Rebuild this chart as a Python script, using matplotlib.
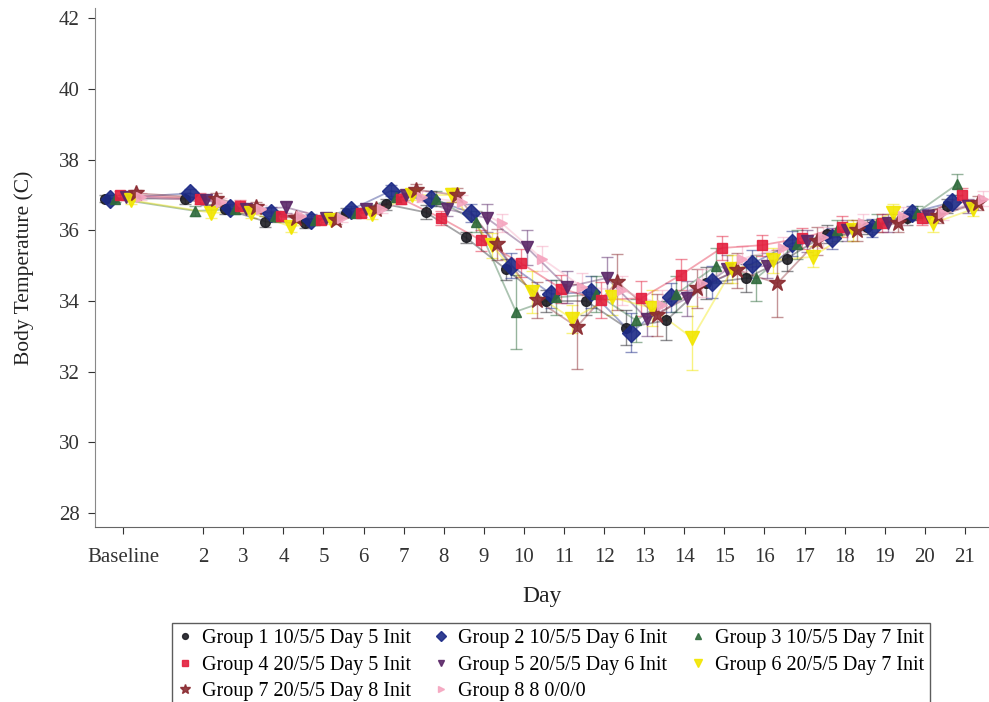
import matplotlib
matplotlib.use("Agg")
import matplotlib.pyplot as plt
import numpy as np

plt.rcParams["font.family"] = ["Liberation Serif", "DejaVu Serif"]

# x positions: Baseline shown at 0, then days 2..21
days = [0, 2, 3, 4, 5, 6, 7, 8, 9, 10, 11, 12, 13, 14, 15, 16, 17, 18, 19, 20, 21]
day_labels = ["Baseline"] + [str(d) for d in range(2, 22)]

groups = [
    "Group 1 10/5/5 Day 5 Init",
    "Group 2 10/5/5 Day 6 Init",
    "Group 3 10/5/5 Day 7 Init",
    "Group 4 20/5/5 Day 5 Init",
    "Group 5 20/5/5 Day 6 Init",
    "Group 6 20/5/5 Day 7 Init",
    "Group 7 20/5/5 Day 8 Init",
    "Group 8 8 0/0/0",
]

g1 = [36.90, 36.90, 36.60, 36.25, 36.20, 36.50, 36.74, 36.51, 35.80, 34.90, 34.00,
      34.00, 33.25, 33.45, 34.50, 34.65, 35.20, 35.90, 36.10, 36.35, 36.70]
g2 = [36.90, 37.05, 36.62, 36.50, 36.30, 36.58, 37.12, 36.90, 36.50, 35.00, 34.20,
      34.25, 33.10, 34.10, 34.53, 35.05, 35.63, 35.78, 36.06, 36.50, 36.80]
g3 = [36.90, 36.55, 36.60, 36.40, 36.30, 36.50, 36.95, 36.90, 36.25, 33.70, 34.10,
      34.20, 33.45, 34.20, 35.00, 34.65, 35.60, 36.00, 36.20, 36.50, 37.30]
g4 = [37.00, 36.90, 36.70, 36.40, 36.30, 36.50, 36.90, 36.35, 35.72, 35.07, 34.35,
      34.03, 34.08, 34.75, 35.50, 35.58, 35.78, 36.10, 36.20, 36.35, 36.99]
g5 = [36.95, 36.85, 36.60, 36.65, 36.35, 36.60, 37.00, 36.60, 36.35, 35.52, 34.40,
      34.65, 33.50, 34.08, 34.90, 35.00, 35.70, 36.00, 36.20, 36.40, 36.70]
g6 = [36.85, 36.50, 36.50, 36.10, 36.30, 36.45, 37.00, 37.00, 35.58, 34.25, 33.50,
      34.10, 33.80, 32.95, 34.90, 35.15, 35.25, 36.00, 36.50, 36.20, 36.60]
g7 = [37.05, 36.90, 36.65, 36.35, 36.30, 36.60, 37.15, 37.00, 35.60, 34.03, 33.27,
      34.54, 33.60, 34.36, 34.87, 34.50, 35.70, 36.00, 36.20, 36.40, 36.77]
g8 = [36.95, 36.80, 36.60, 36.40, 36.35, 36.60, 36.95, 36.80, 36.20, 35.20, 34.40,
      34.30, 33.90, 34.50, 35.20, 35.50, 35.80, 36.20, 36.40, 36.50, 36.90]

e1 = [0.10, 0.15, 0.15, 0.15, 0.12, 0.12, 0.15, 0.20, 0.15, 0.30, 0.30,
      0.40, 0.50, 0.55, 0.45, 0.40, 0.35, 0.25, 0.20, 0.20, 0.20]
e2 = [0.10, 0.12, 0.12, 0.15, 0.15, 0.12, 0.15, 0.20, 0.25, 0.35, 0.40,
      0.45, 0.55, 0.40, 0.45, 0.40, 0.35, 0.30, 0.25, 0.20, 0.20]
e3 = [0.10, 0.15, 0.15, 0.15, 0.12, 0.12, 0.15, 0.20, 0.30, 1.05, 0.50,
      0.50, 0.60, 0.50, 0.50, 0.65, 0.40, 0.30, 0.25, 0.20, 0.30]
e4 = [0.10, 0.15, 0.15, 0.12, 0.12, 0.12, 0.15, 0.20, 0.30, 0.40, 0.40,
      0.50, 0.50, 0.45, 0.35, 0.30, 0.30, 0.30, 0.25, 0.20, 0.20]
e5 = [0.10, 0.12, 0.12, 0.15, 0.12, 0.12, 0.15, 0.20, 0.40, 0.50, 0.45,
      0.60, 0.50, 0.50, 0.40, 0.35, 0.30, 0.30, 0.25, 0.20, 0.20]
e6 = [0.10, 0.15, 0.15, 0.15, 0.12, 0.12, 0.15, 0.20, 0.35, 0.60, 0.40,
      0.50, 0.50, 0.90, 0.40, 0.35, 0.30, 0.30, 0.25, 0.25, 0.20]
e7 = [0.10, 0.15, 0.15, 0.12, 0.12, 0.12, 0.15, 0.20, 0.45, 0.50, 1.20,
      0.80, 0.60, 0.55, 0.50, 0.95, 0.40, 0.30, 0.25, 0.20, 0.20]
e8 = [0.10, 0.12, 0.12, 0.12, 0.12, 0.12, 0.15, 0.20, 0.25, 0.35, 0.40,
      0.40, 0.40, 0.40, 0.35, 0.30, 0.30, 0.25, 0.25, 0.20, 0.20]

values = [g1, g2, g3, g4, g5, g6, g7, g8]
errors = [e1, e2, e3, e4, e5, e6, e7, e8]
colors = ["#1e1e24", "#1c2a86", "#2f6b3c", "#e3203e", "#5b2868", "#f2e600", "#8a2a30", "#f5a6c0"]
markers = ["o", "D", "^", "s", "v", "v", "*", ">"]
msizes = [7, 9, 7, 7, 8, 10, 12, 7]
offsets = [-0.45, -0.32, -0.2, -0.07, 0.07, 0.2, 0.32, 0.45]

fig = plt.figure(figsize=(9.89, 7.02), dpi=100)
ax = fig.add_axes([0.096, 0.249, 0.904, 0.74])

handles = []
x = np.array(days, dtype=float)
for i in range(8):
    xs = x + offsets[i]
    ax.errorbar(xs, values[i], yerr=errors[i], fmt="none", ecolor=colors[i],
                elinewidth=1.0, capsize=4, capthick=1.0, alpha=0.5, zorder=2)
    ax.plot(xs, values[i], color=colors[i], lw=1.3, alpha=0.4, zorder=3)
    h, = ax.plot(xs, values[i], linestyle="none", marker=markers[i], ms=msizes[i],
                 color=colors[i], mec=colors[i], alpha=0.9, zorder=4)
    handles.append(h)

ax.set_xlim(-0.7, 21.6)
ax.set_ylim(27.6, 42.3)
ax.set_xticks(days)
ax.set_xticklabels(day_labels)
ax.set_yticks([28, 30, 32, 34, 36, 38, 40, 42])
ax.tick_params(labelsize=15, colors="#333333", length=5)
ax.tick_params(axis="x", pad=10)
ax.tick_params(axis="y", pad=6)
ax.set_xlabel("Day", fontsize=17, color="#222222", labelpad=14)
ax.set_ylabel("Body Temperature (C)", fontsize=15.5, color="#222222", labelpad=18)
ax.spines["top"].set_visible(False)
ax.spines["right"].set_visible(False)
ax.spines["left"].set_color("#888888")
ax.spines["bottom"].set_color("#666666")

order = [0, 3, 6, 1, 4, 7, 2, 5]
leg = fig.legend([handles[k] for k in order], [groups[k] for k in order],
                 loc="lower center", bbox_to_anchor=(0.557, -0.022), ncol=3,
                 fontsize=14.5, frameon=True, fancybox=False, edgecolor="#333333",
                 handlelength=0.7, handletextpad=0.5, columnspacing=1.15,
                 labelspacing=0.38, borderpad=0.3, markerscale=0.6)
leg.get_frame().set_linewidth(1.0)

fig.savefig("out.png", dpi=100)
